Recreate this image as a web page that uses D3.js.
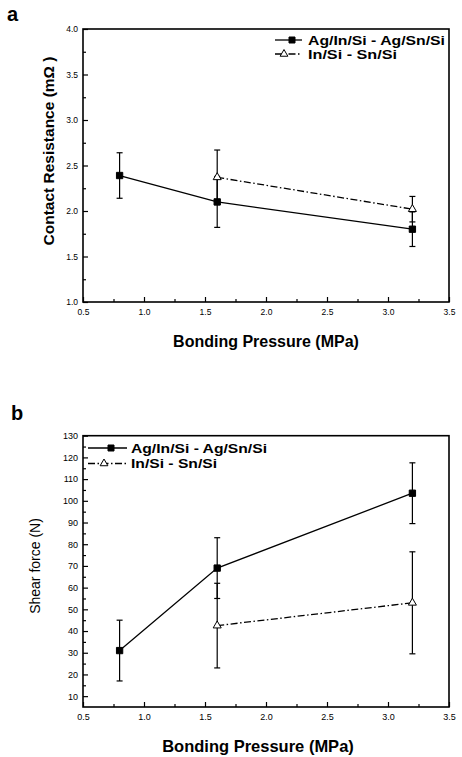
<!DOCTYPE html>
<html lang="en">
	<head>
		<meta charset="utf-8">
		<title>Contact resistance and shear force</title>
		<script src="https://d3js.org/d3.v7.min.js"></script>
		<style type="text/css">
			body { margin: 0; background: #fff; }
			svg { font-family: "Liberation Sans", Arial, sans-serif; }
			.axis path { display: none; }
			.axis line { stroke: #000; stroke-width: 1.2; }
			.axis text { font-size: 8.5px; fill: #000; }
		</style>
	</head>
	<body>
		<script type="text/javascript">
			//Width and height
			var w = 462;
			var h = 757;

			//Data
			var pressureAg = [0.8, 1.6, 3.2];
			var pressureIn = [1.6, 3.2];

			var resistAg = [2.39, 2.10, 1.80];
			var resistAgErr = [0.25, 0.28, 0.19];
			var resistIn = [2.37, 2.02];
			var resistInErr = [0.30, 0.14];

			var shearAg = [31, 69, 103.5];
			var shearAgErr = [14, 14, 14];
			var shearIn = [42.5, 53];
			var shearInErr = [19.5, 23.5];

			var xTicks = [0.5, 1.0, 1.5, 2.0, 2.5, 3.0, 3.5];
			var resistTicks = [1.0, 1.5, 2.0, 2.5, 3.0, 3.5, 4.0];
			var shearTicks = [10, 20, 30, 40, 50, 60, 70, 80, 90, 100, 110, 120, 130];
			var legendNames = ["Ag/In/Si - Ag/Sn/Si", "In/Si - Sn/Si"];

			var svg = d3.select("body")
						.append("svg")
						.attr("width", w)
						.attr("height", h);

			function zip(xs, ys, es) {
				return xs.map(function(x, i) { return { x: x, y: ys[i], e: es[i] }; });
			}

			function drawPanel(p) {
				var xScale = d3.scaleLinear().domain([0.5, 3.5]).range([83, 449]);
				var yScale = d3.scaleLinear().domain(p.yDomain).range([p.bottom, p.top]);
				var g = svg.append("g");

				//Frame
				g.append("rect")
					.attr("x", 83).attr("y", p.top)
					.attr("width", 449 - 83).attr("height", p.bottom - p.top)
					.attr("fill", "none").attr("stroke", "#000").attr("stroke-width", 1.6);

				//Axes, ticks pointing inward
				g.append("g").attr("class", "axis")
					.attr("transform", "translate(0," + p.bottom + ")")
					.call(d3.axisBottom(xScale).tickValues(xTicks).tickSize(-5).tickPadding(7)
						.tickFormat(d3.format(".1f")));
				g.append("g").attr("class", "axis")
					.attr("transform", "translate(0," + p.bottom + ")")
					.call(d3.axisBottom(xScale).tickValues(d3.range(0.75, 3.5, 0.5)).tickSize(-3).tickFormat(""));
				g.append("g").attr("class", "axis")
					.attr("transform", "translate(83,0)")
					.call(d3.axisLeft(yScale).tickValues(p.yTicks).tickSize(-5).tickPadding(5)
						.tickFormat(p.yFormat));
				g.append("g").attr("class", "axis")
					.attr("transform", "translate(83,0)")
					.call(d3.axisLeft(yScale).tickValues(p.yMinor).tickSize(-3).tickFormat(""));
				g.selectAll(".axis text").style("font-size", p.tickFont + "px");

				var line = d3.line().x(function(d) { return xScale(d.x); }).y(function(d) { return yScale(d.y); });

				var series = [
					{ data: p.ag, dash: null, marker: "square" },
					{ data: p.inn, dash: "7,2.5,1.5,2.5", marker: "triangle" }
				];

				series.forEach(function(s) {
					g.append("path")
						.attr("d", line(s.data))
						.attr("fill", "none").attr("stroke", "#000").attr("stroke-width", 1.3)
						.attr("stroke-dasharray", s.dash);

					//Error bars
					var eb = g.selectAll(null).data(s.data).enter().append("g");
					eb.append("line")
						.attr("x1", function(d) { return xScale(d.x); })
						.attr("x2", function(d) { return xScale(d.x); })
						.attr("y1", function(d) { return yScale(d.y - d.e); })
						.attr("y2", function(d) { return yScale(d.y + d.e); })
						.attr("stroke", "#000").attr("stroke-width", 1.2);
					[-1, 1].forEach(function(sign) {
						eb.append("line")
							.attr("x1", function(d) { return xScale(d.x) - 3; })
							.attr("x2", function(d) { return xScale(d.x) + 3; })
							.attr("y1", function(d) { return yScale(d.y + sign * d.e); })
							.attr("y2", function(d) { return yScale(d.y + sign * d.e); })
							.attr("stroke", "#000").attr("stroke-width", 1.2);
					});

					g.selectAll(null).data(s.data).enter().append("path")
						.attr("transform", function(d) { return "translate(" + xScale(d.x) + "," + yScale(d.y) + ")"; })
						.attr("d", d3.symbol().type(s.marker == "square" ? d3.symbolSquare : d3.symbolTriangle)
							.size(s.marker == "square" ? 40 : 28))
						.attr("fill", s.marker == "square" ? "#000" : "#fff")
						.attr("stroke", "#000").attr("stroke-width", 1);
				});

				//Legend
				series.forEach(function(s, i) {
					var ly = p.legend.y + i * p.legend.dy;
					g.append("line")
						.attr("x1", p.legend.x1).attr("x2", p.legend.x2)
						.attr("y1", ly).attr("y2", ly)
						.attr("stroke", "#000").attr("stroke-width", 1.3)
						.attr("stroke-dasharray", s.dash);
					g.append("path")
						.attr("transform", "translate(" + p.legend.mx[i] + "," + ly + ")")
						.attr("d", d3.symbol().type(s.marker == "square" ? d3.symbolSquare : d3.symbolTriangle)
							.size(s.marker == "square" ? 36 : 26))
						.attr("fill", s.marker == "square" ? "#000" : "#fff")
						.attr("stroke", "#000").attr("stroke-width", 1);
					g.append("text")
						.attr("x", p.legend.tx).attr("y", ly + 4.5)
						.attr("textLength", p.legend.len[i])
						.attr("lengthAdjust", "spacingAndGlyphs")
						.style("font-size", p.legend.font + "px").style("font-weight", "bold")
						.text(legendNames[i]);
				});

				//Axis titles
				g.append("text")
					.attr("x", p.xTitle.x).attr("y", p.xTitle.y)
					.attr("text-anchor", "middle")
					.style("font-size", p.xTitle.font + "px").style("font-weight", "bold")
					.text("Bonding Pressure (MPa)");
				g.append("text")
					.attr("transform", "translate(" + p.yTitle.x + "," + p.yTitle.y + ") rotate(-90)")
					.attr("text-anchor", "middle")
					.style("font-size", p.yTitle.font + "px").style("font-weight", p.yTitle.weight)
					.text(p.yTitle.text);

				//Panel letter
				g.append("text")
					.attr("x", p.letter.x).attr("y", p.letter.y)
					.style("font-size", "20px").style("font-weight", "bold")
					.text(p.letter.text);
			}

			drawPanel({
				top: 29, bottom: 302,
				yDomain: [1.0, 4.0],
				yTicks: resistTicks,
				yMinor: d3.range(1.25, 4.0, 0.5),
				yFormat: d3.format(".1f"),
				tickFont: 8.5,
				ag: zip(pressureAg, resistAg, resistAgErr),
				inn: zip(pressureIn, resistIn, resistInErr),
				legend: { x1: 275, x2: 302, mx: [292, 284], tx: 308, y: 40, dy: 14, font: 12, len: [137, 89] },
				xTitle: { x: 266, y: 347, font: 16 },
				yTitle: { x: 54, y: 151, font: 15.5, weight: "bold", text: "Contact Resistance (m\u03A9 )" },
				letter: { x: 7, y: 21, text: "a" }
			});

			drawPanel({
				top: 435.7, bottom: 707,
				yDomain: [5, 130],
				yTicks: shearTicks,
				yMinor: d3.range(15, 130, 10),
				yFormat: d3.format("d"),
				tickFont: 9,
				ag: zip(pressureAg, shearAg, shearAgErr),
				inn: zip(pressureIn, shearIn, shearInErr),
				legend: { x1: 88, x2: 127, mx: [111, 104], tx: 131, y: 448, dy: 15.5, font: 13.5, len: [136, 86] },
				xTitle: { x: 258, y: 752, font: 16.5 },
				yTitle: { x: 40, y: 566, font: 14, weight: "normal", text: "Shear force (N)" },
				letter: { x: 11, y: 420, text: "b" }
			});
		</script>
	</body>
</html>
